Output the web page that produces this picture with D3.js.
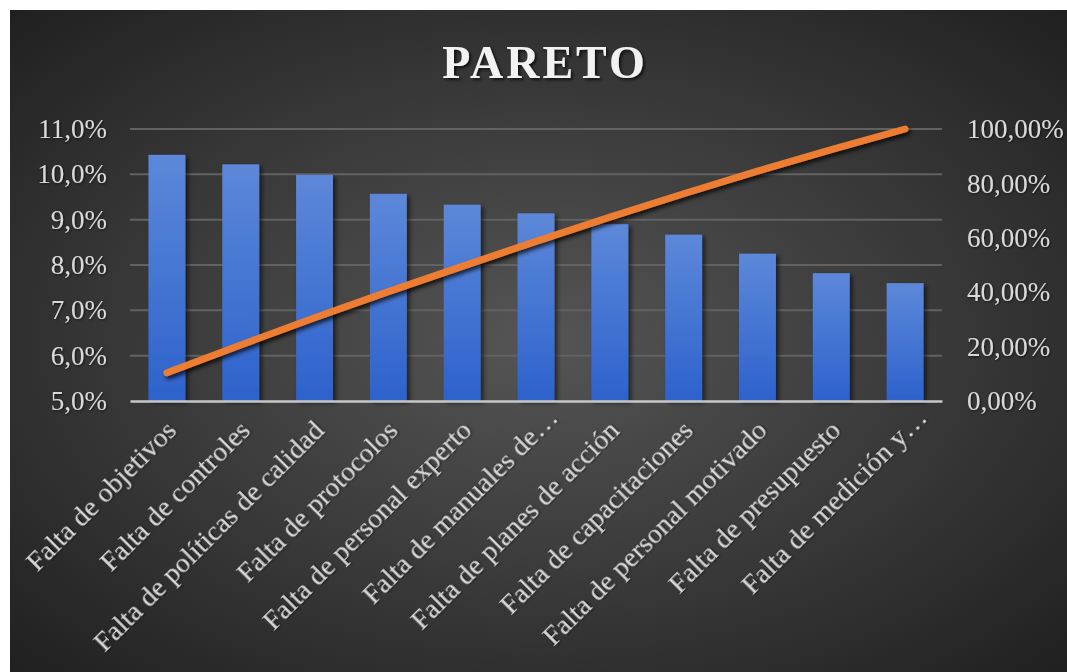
<!DOCTYPE html>
<html>
<head>
<meta charset="utf-8">
<script src="https://cdn.jsdelivr.net/npm/d3@7"></script>
<style>
  html, body { margin: 0; padding: 0; background: #ffffff; }
  svg { display: block; }
</style>
</head>
<body>
<div id="chart"></div>
<script>
// Causas (ordenadas de mayor a menor) y su participación porcentual
const categories = [
  "Falta de objetivos",
  "Falta de controles",
  "Falta de políticas de calidad",
  "Falta de protocolos",
  "Falta de personal experto",
  "Falta de manuales de…",
  "Falta de planes de acción",
  "Falta de capacitaciones",
  "Falta de personal motivado",
  "Falta de presupuesto",
  "Falta de medición y…"
];
const percentages = [10.43, 10.22, 9.99, 9.57, 9.33, 9.14, 8.90, 8.67, 8.25, 7.82, 7.60];
const cumulative = [10.4, 20.6, 30.6, 40.2, 49.5, 58.7, 67.6, 76.2, 84.5, 92.4, 100.0];
const leftTicks = [5, 6, 7, 8, 9, 10, 11];
const rightTicks = [0, 20, 40, 60, 80, 100];
const title = "PARETO";

const W = 1067, H = 672;
const svg = d3.select("#chart").append("svg")
  .attr("width", W).attr("height", H);

const defs = svg.append("defs");

// fondo oscuro con degradado radial
const bg = defs.append("radialGradient").attr("id", "bgGrad")
  .attr("cx", "50%").attr("cy", "50%").attr("r", "72%");
bg.append("stop").attr("offset", "0%").attr("stop-color", "#555555");
bg.append("stop").attr("offset", "100%").attr("stop-color", "#1f1f1f");

// degradado vertical de las columnas
const barGrad = defs.append("linearGradient").attr("id", "barGrad")
  .attr("x1", 0).attr("y1", 0).attr("x2", 0).attr("y2", 1);
barGrad.append("stop").attr("offset", "0%").attr("stop-color", "#5d88d9");
barGrad.append("stop").attr("offset", "100%").attr("stop-color", "#2d62cc");

function shadow(id, dx, dy, blur, op) {
  const f = defs.append("filter").attr("id", id)
    .attr("x", "-20%").attr("y", "-20%").attr("width", "140%").attr("height", "140%");
  f.append("feDropShadow").attr("dx", dx).attr("dy", dy)
    .attr("stdDeviation", blur).attr("flood-color", "#000").attr("flood-opacity", op);
}
shadow("barShadow", 3, 2, 2, 0.55);
shadow("lineShadow", 2, 3, 2, 0.75);
shadow("textShadow", 2, 2, 1.5, 0.7);
shadow("labelShadow", 1, 1, 0.8, 0.6);

svg.append("rect")
  .attr("x", 10).attr("y", 10).attr("width", W - 10).attr("height", H - 10)
  .attr("fill", "url(#bgGrad)");

const plot = { left: 130, right: 942, top: 129, bottom: 401 };

const x = d3.scaleBand()
  .domain(categories)
  .range([plot.left, plot.right])
  .paddingInner(0.5)
  .paddingOuter(0.25);

const yLeft = d3.scaleLinear().domain([5, 11]).range([plot.bottom, plot.top]);
const yRight = d3.scaleLinear().domain([0, 100]).range([plot.bottom, plot.top]);

const locale = d3.formatLocale({ decimal: ",", thousands: ".", grouping: [3], currency: ["", "€"] });
const fmtLeft = v => locale.format(".1f")(v) + "%";
const fmtRight = v => locale.format(".2f")(v) + "%";

const serif = "'Liberation Serif', 'Times New Roman', serif";

// líneas de división horizontales
svg.append("g")
  .selectAll("line")
  .data(leftTicks.slice(1))
  .join("line")
  .attr("x1", plot.left).attr("x2", plot.right)
  .attr("y1", d => yLeft(d)).attr("y2", d => yLeft(d))
  .attr("stroke", "#626262").attr("stroke-width", 2);

// eje izquierdo
const axL = svg.append("g")
  .attr("transform", `translate(${plot.left},0)`)
  .call(d3.axisLeft(yLeft).tickValues(leftTicks).tickFormat(fmtLeft).tickSize(0).tickPadding(23));
axL.select(".domain").remove();
axL.selectAll("text")
  .attr("font-family", serif).attr("font-size", 27).attr("fill", "#d9d9d9")
  .attr("filter", "url(#labelShadow)");

// eje derecho
const axR = svg.append("g")
  .attr("transform", `translate(${plot.right},0)`)
  .call(d3.axisRight(yRight).tickValues(rightTicks).tickFormat(fmtRight).tickSize(0).tickPadding(25));
axR.select(".domain").remove();
axR.selectAll("text")
  .attr("font-family", serif).attr("font-size", 27).attr("fill", "#d9d9d9")
  .attr("filter", "url(#labelShadow)");

// columnas
svg.append("g")
  .selectAll("rect")
  .data(percentages)
  .join("rect")
  .attr("x", (d, i) => x(categories[i]))
  .attr("width", x.bandwidth())
  .attr("y", d => yLeft(d))
  .attr("height", d => yLeft(5) - yLeft(d))
  .attr("fill", "url(#barGrad)")
  .attr("filter", "url(#barShadow)");

// eje de categorías
const axB = svg.append("g")
  .attr("transform", `translate(0,${plot.bottom})`)
  .call(d3.axisBottom(x).tickSize(0).tickFormat(""));
axB.select(".domain")
  .attr("stroke", "#c8c8c8").attr("stroke-width", 2.5);

svg.append("g")
  .selectAll("text")
  .data(categories)
  .join("text")
  .attr("transform", d => `translate(${x(d) + x.bandwidth() / 2 + 11},${plot.bottom + 31}) rotate(-45)`)
  .attr("dx", d => d.endsWith("…") ? 18 : 0)
  .attr("text-anchor", "end")
  .attr("font-family", serif).attr("font-size", 28)
  .attr("fill", "#d9d9d9")
  .attr("filter", "url(#labelShadow)")
  .text(d => d);

// línea del porcentaje acumulado
const line = d3.line()
  .x((d, i) => x(categories[i]) + x.bandwidth() / 2)
  .y(d => yRight(d));

svg.append("path")
  .datum(cumulative)
  .attr("d", line)
  .attr("fill", "none")
  .attr("stroke", "#ed7d31")
  .attr("stroke-width", 7)
  .attr("stroke-linecap", "round")
  .attr("stroke-linejoin", "round")
  .attr("filter", "url(#lineShadow)");

// título
svg.append("text")
  .attr("x", 545).attr("y", 78)
  .attr("text-anchor", "middle")
  .attr("font-family", serif).attr("font-weight", "bold").attr("font-size", 46)
  .attr("letter-spacing", 3)
  .attr("fill", "#f2f2f2")
  .attr("filter", "url(#textShadow)")
  .text(title);
</script>
</body>
</html>
